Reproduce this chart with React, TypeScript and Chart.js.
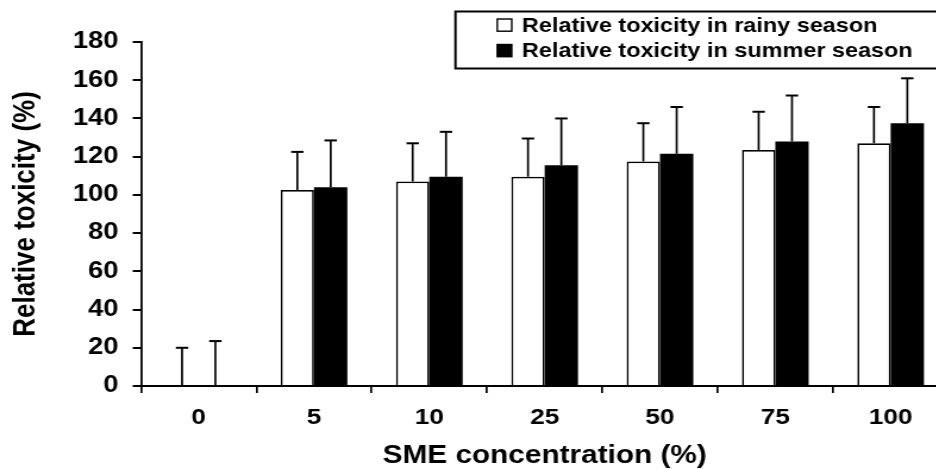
import React, { useEffect, useRef } from "react";
import { Chart, registerables } from "chart.js";

Chart.register(...registerables);

// ---- data ----
const categories = ["0", "5", "10", "25", "50", "75", "100"];
const rainyValues = [0, 102.5, 107, 109.5, 117.5, 123.5, 127];
const rainyErrors = [20, 20, 20, 20, 20, 20, 19];
const summerValues = [0, 104, 109.5, 115.5, 121.5, 128, 137.5];
const summerErrors = [23.5, 24.5, 23.5, 24.5, 24.5, 24, 23.5];
const seriesLabels = [
  "Relative toxicity in rainy season",
  "Relative toxicity in summer season",
];
const seriesColors = ["#ffffff", "#000000"];
const yMin = 0;
const yMax = 180;
const yStep = 20;
const xTitle = "SME concentration (%)";
const yTitle = "Relative toxicity (%)";

// ---- layout (logical canvas px; canvas is stretched horizontally by SX) ----
const SX = 1.19;
const LW = 810;
const H = 469;
const FAMILY = "'Liberation Sans', Arial, Helvetica, sans-serif";
const PLOT_LEFT = 118.5;
const PLOT_RIGHT = 796.8;
const PLOT_TOP = 42;
const PLOT_BOTTOM = 386;

const errorBarPlugin = {
  id: "errorBars",
  afterDatasetsDraw(chart: any) {
    const ctx = chart.ctx;
    const ys = chart.scales.y;
    chart.data.datasets.forEach((ds: any, i: number) => {
      const meta = chart.getDatasetMeta(i);
      meta.data.forEach((bar: any, j: number) => {
        const v = ds.data[j];
        const e = ds.errors[j];
        const x = bar.x;
        const y0 = ys.getPixelForValue(v);
        const y1 = ys.getPixelForValue(v + e);
        ctx.save();
        ctx.strokeStyle = "#000";
        ctx.lineWidth = 1.7;
        ctx.beginPath();
        ctx.moveTo(x, y0);
        ctx.lineTo(x, y1);
        ctx.stroke();
        ctx.lineWidth = 2;
        ctx.beginPath();
        ctx.moveTo(x - 5.2, y1);
        ctx.lineTo(x + 5.2, y1);
        ctx.stroke();
        ctx.restore();
      });
    });
  },
};

const boxLegendPlugin = {
  id: "boxLegend",
  afterDraw(chart: any) {
    const ctx = chart.ctx;
    const left = 382.7;
    const top = 11.5;
    const bottom = 68.5;
    ctx.save();
    ctx.strokeStyle = "#000";
    ctx.lineWidth = 2;
    ctx.beginPath();
    ctx.moveTo(LW + 10, top);
    ctx.lineTo(left, top);
    ctx.lineTo(left, bottom);
    ctx.lineTo(LW + 10, bottom);
    ctx.stroke();
    ctx.font = `bold 19.7px ${FAMILY}`;
    ctx.textBaseline = "alphabetic";
    ctx.textAlign = "left";
    const baselines = [31.5, 57];
    chart.data.datasets.forEach((ds: any, i: number) => {
      const b = baselines[i];
      const sq = 12.2;
      const sx = 417.8;
      const sy = b - 12.5;
      ctx.fillStyle = ds.backgroundColor;
      ctx.fillRect(sx, sy, sq, sq);
      ctx.lineWidth = 1.4;
      ctx.strokeStyle = "#000";
      ctx.strokeRect(sx, sy, sq, sq);
      ctx.fillStyle = "#000";
      ctx.fillText(ds.label, 438.6, b);
    });
    ctx.restore();
  },
};

export default function App() {
  const canvasRef = useRef<HTMLCanvasElement | null>(null);

  useEffect(() => {
    const canvas = canvasRef.current;
    if (!canvas) return;
    const chart = new Chart(canvas, {
      type: "bar",
      data: {
        labels: categories,
        datasets: [
          {
            label: seriesLabels[0],
            data: rainyValues,
            errors: rainyErrors,
            backgroundColor: seriesColors[0],
            borderColor: "#000",
            borderWidth: 1.7,
          } as any,
          {
            label: seriesLabels[1],
            data: summerValues,
            errors: summerErrors,
            backgroundColor: seriesColors[1],
            borderColor: "#000",
            borderWidth: 0,
          } as any,
        ],
      },
      options: {
        responsive: false,
        animation: false,
        devicePixelRatio: 1,
        datasets: {
          bar: { categoryPercentage: 0.578, barPercentage: 1 },
        },
        layout: {
          padding: { left: 0, top: PLOT_TOP, right: LW - PLOT_RIGHT, bottom: 0 },
        },
        plugins: {
          legend: { display: false },
          tooltip: { enabled: false },
        },
        scales: {
          x: {
            type: "category",
            offset: true,
            grid: {
              offset: true,
              drawOnChartArea: false,
              drawTicks: true,
              tickLength: 7,
              color: "#000",
              lineWidth: 1.7,
            },
            border: { display: true, color: "#000", width: 2 },
            ticks: {
              color: "#000",
              font: { family: FAMILY, size: 22, weight: "bold" },
              padding: 12,
              maxRotation: 0,
              autoSkip: false,
            },
            title: {
              display: true,
              text: xTitle,
              color: "#000",
              font: { family: FAMILY, size: 25, weight: "bold", lineHeight: 1 },
              padding: { top: 0, bottom: 0 },
            },
            afterFit(scale: any) {
              scale.height = H - PLOT_BOTTOM;
            },
          },
          y: {
            min: yMin,
            max: yMax,
            ticks: {
              stepSize: yStep,
              color: "#000",
              font: { family: FAMILY, size: 23, weight: "bold" },
              padding: 12,
            },
            grid: {
              drawOnChartArea: false,
              drawTicks: true,
              tickLength: 7,
              color: "#000",
              lineWidth: 2,
            },
            border: { display: true, color: "#000", width: 1.8 },
            title: {
              display: true,
              text: yTitle,
              color: "#000",
              font: { family: FAMILY, size: 26, weight: "bold", lineHeight: 1 },
              padding: { top: 9, bottom: 0 },
            },
            afterFit(scale: any) {
              scale.width = PLOT_LEFT;
            },
          },
        },
      } as any,
      plugins: [errorBarPlugin, boxLegendPlugin],
    });
    return () => chart.destroy();
  }, []);

  return (
    <div
      style={{
        position: "fixed",
        left: 0,
        top: 0,
        width: 936,
        height: 469,
        overflow: "hidden",
        background: "#fff",
      }}
    >
      <canvas
        ref={canvasRef}
        width={LW}
        height={H}
        style={{ width: `${LW * SX}px`, height: `${H}px`, display: "block" }}
      />
    </div>
  );
}
